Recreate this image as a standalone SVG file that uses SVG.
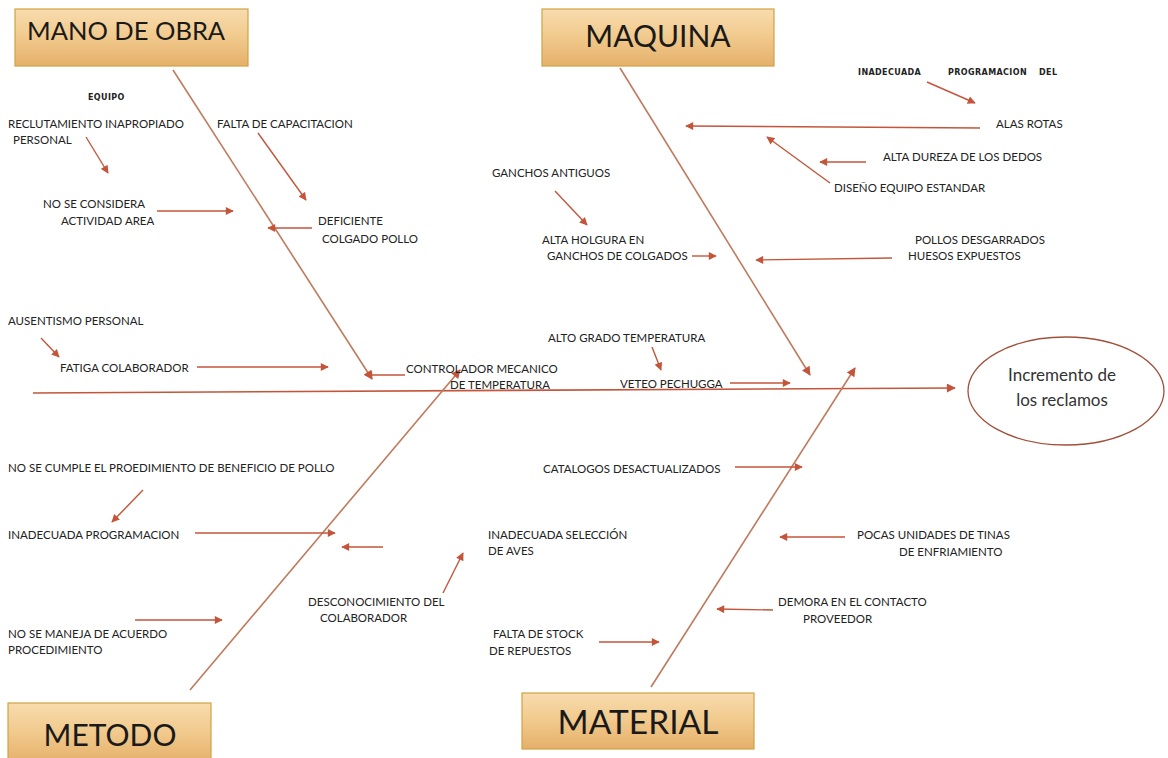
<svg xmlns="http://www.w3.org/2000/svg" width="1168" height="758" viewBox="0 0 1168 758">
<defs>
<linearGradient id="boxg" x1="0" y1="0" x2="0" y2="1">
<stop offset="0" stop-color="#f8dcae"/>
<stop offset="0.5" stop-color="#f1c98c"/>
<stop offset="1" stop-color="#e5b06a"/>
</linearGradient>
<marker id="ah" viewBox="0 0 10 10" refX="9" refY="5" markerWidth="9" markerHeight="8" markerUnits="userSpaceOnUse" orient="auto">
<path d="M0,0 L10,5 L0,10 z" fill="#c4553a"/>
</marker>
<marker id="ahb" viewBox="0 0 10 10" refX="9" refY="5" markerWidth="10" markerHeight="9" markerUnits="userSpaceOnUse" orient="auto">
<path d="M0,0 L10,5 L0,10 z" fill="#c4553a"/>
</marker>
</defs>
<style>
.box{fill:url(#boxg);stroke:#cfa245;stroke-width:1.2}
.hd{font-family:Lato,"Open Sans",sans-serif;fill:#1a1a1a}
.t{font-family:Lato,"Open Sans",sans-serif;font-size:11.5px;fill:#222}
.tb{font-family:"DejaVu Sans","Liberation Sans",sans-serif;font-size:8px;font-weight:bold;letter-spacing:0.4px;fill:#222}
.bone{stroke:#c07a5c;stroke-width:1.6;fill:none}
.ar{stroke:#c4553a;stroke-width:1.4;fill:none;marker-end:url(#ah)}
.ce{font-family:Lato,"Open Sans",sans-serif;font-size:17px;fill:#333}
</style>
<rect width="1168" height="758" fill="#ffffff"/>

<g id="effect">
<ellipse cx="1066" cy="391" rx="98" ry="54" fill="#ffffff" stroke="#a0503a" stroke-width="1.3"/>
<text class="ce" x="1062" y="381" text-anchor="middle">Incremento de</text>
<text class="ce" x="1062" y="406" text-anchor="middle">los reclamos</text>
</g>

<g id="mano-de-obra">
<rect class="box" x="15" y="9" width="233" height="57"/>
<text class="hd" x="27" y="40" font-size="25.5">MANO DE OBRA</text>
</g>
<g id="maquina">
<rect class="box" x="542" y="9" width="232" height="57"/>
<text class="hd" x="658" y="47" font-size="30" text-anchor="middle">MAQUINA</text>
</g>
<g id="metodo">
<rect class="box" x="8" y="703" width="203" height="60"/>
<text class="hd" x="110" y="746" font-size="30" text-anchor="middle">METODO</text>
</g>
<g id="material">
<rect class="box" x="522" y="693" width="232" height="56"/>
<text class="hd" x="638" y="734" font-size="33.5" text-anchor="middle">MATERIAL</text>
</g>

<g id="connectors">
<line class="bone" x1="33" y1="393" x2="955" y2="388" style="stroke:#c4553a;marker-end:url(#ahb)"/>
<line class="bone" x1="173" y1="70" x2="372" y2="379" style="marker-end:url(#ahb)"/>
<line class="bone" x1="620" y1="68" x2="810" y2="375" style="marker-end:url(#ahb)"/>
<line class="bone" x1="190" y1="690" x2="460" y2="370" style="marker-end:url(#ahb)"/>
<line class="bone" x1="651" y1="687" x2="855" y2="368" style="marker-end:url(#ahb)"/>

<line class="ar" x1="86" y1="137" x2="108" y2="173"/>
<line class="ar" x1="258" y1="133" x2="306" y2="200"/>
<line class="ar" x1="157" y1="211" x2="233" y2="211"/>
<line class="ar" x1="312" y1="228" x2="268" y2="228"/>
<line class="ar" x1="41" y1="338" x2="59" y2="357"/>
<line class="ar" x1="197" y1="367" x2="328" y2="367"/>
<line class="ar" x1="405" y1="375" x2="365" y2="375"/>

<line class="ar" x1="927" y1="82" x2="975" y2="103"/>
<line class="ar" x1="980" y1="128" x2="686" y2="126"/>
<line class="ar" x1="830" y1="183" x2="767" y2="137"/>
<line class="ar" x1="866" y1="162" x2="820" y2="162"/>
<line class="ar" x1="555" y1="191" x2="587" y2="225"/>
<line class="ar" x1="692" y1="256" x2="716" y2="256"/>
<line class="ar" x1="892" y1="258" x2="756" y2="260"/>
<line class="ar" x1="652" y1="347" x2="661" y2="370"/>
<line class="ar" x1="730" y1="383" x2="790" y2="383"/>

<line class="ar" x1="143" y1="490" x2="112" y2="522"/>
<line class="ar" x1="195" y1="533" x2="335" y2="533"/>
<line class="ar" x1="383" y1="547" x2="342" y2="547"/>
<line class="ar" x1="443" y1="593" x2="463" y2="553"/>
<line class="ar" x1="135" y1="620" x2="222" y2="620"/>

<line class="ar" x1="735" y1="467" x2="802" y2="467"/>
<line class="ar" x1="845" y1="537" x2="780" y2="537"/>
<line class="ar" x1="773" y1="610" x2="717" y2="609"/>
<line class="ar" x1="599" y1="642" x2="659" y2="642"/>
</g>

<g id="labels">
<text class="tb" x="88" y="100">EQUIPO</text>
<text class="t" x="8" y="128">RECLUTAMIENTO INAPROPIADO</text>
<text class="t" x="13" y="144">PERSONAL</text>
<text class="t" x="217" y="128">FALTA DE CAPACITACION</text>
<text class="t" x="43" y="208">NO SE CONSIDERA</text>
<text class="t" x="61" y="225">ACTIVIDAD AREA</text>
<text class="t" x="318" y="225">DEFICIENTE</text>
<text class="t" x="322" y="243">COLGADO POLLO</text>
<text class="t" x="8" y="325">AUSENTISMO PERSONAL</text>
<text class="t" x="60" y="372">FATIGA COLABORADOR</text>
<text class="t" x="406" y="373">CONTROLADOR MECANICO</text>
<text class="t" x="450" y="389">DE TEMPERATURA</text>

<text class="tb" x="858" y="75">INADECUADA</text>
<text class="tb" x="948" y="75">PROGRAMACION</text>
<text class="tb" x="1039" y="75">DEL</text>
<text class="t" x="996" y="128">ALAS ROTAS</text>
<text class="t" x="883" y="161">ALTA DUREZA DE LOS DEDOS</text>
<text class="t" x="834" y="192">DISEÑO EQUIPO ESTANDAR</text>
<text class="t" x="492" y="177">GANCHOS ANTIGUOS</text>
<text class="t" x="542" y="244">ALTA HOLGURA EN</text>
<text class="t" x="547" y="260">GANCHOS DE COLGADOS</text>
<text class="t" x="915" y="244">POLLOS DESGARRADOS</text>
<text class="t" x="908" y="260">HUESOS EXPUESTOS</text>
<text class="t" x="548" y="342">ALTO GRADO TEMPERATURA</text>
<text class="t" x="620" y="388">VETEO PECHUGGA</text>

<text class="t" x="8" y="472">NO SE CUMPLE EL PROEDIMIENTO DE BENEFICIO DE POLLO</text>
<text class="t" x="8" y="539">INADECUADA PROGRAMACION</text>
<text class="t" x="488" y="539">INADECUADA SELECCIÓN</text>
<text class="t" x="488" y="555">DE AVES</text>
<text class="t" x="308" y="606">DESCONOCIMIENTO DEL</text>
<text class="t" x="320" y="622">COLABORADOR</text>
<text class="t" x="8" y="638">NO SE MANEJA DE ACUERDO</text>
<text class="t" x="8" y="654">PROCEDIMIENTO</text>

<text class="t" x="543" y="473">CATALOGOS DESACTUALIZADOS</text>
<text class="t" x="857" y="539">POCAS UNIDADES DE TINAS</text>
<text class="t" x="899" y="556">DE ENFRIAMIENTO</text>
<text class="t" x="778" y="606">DEMORA EN EL CONTACTO</text>
<text class="t" x="803" y="623">PROVEEDOR</text>
<text class="t" x="493" y="638">FALTA DE STOCK</text>
<text class="t" x="489" y="655">DE REPUESTOS</text>
</g>
</svg>
